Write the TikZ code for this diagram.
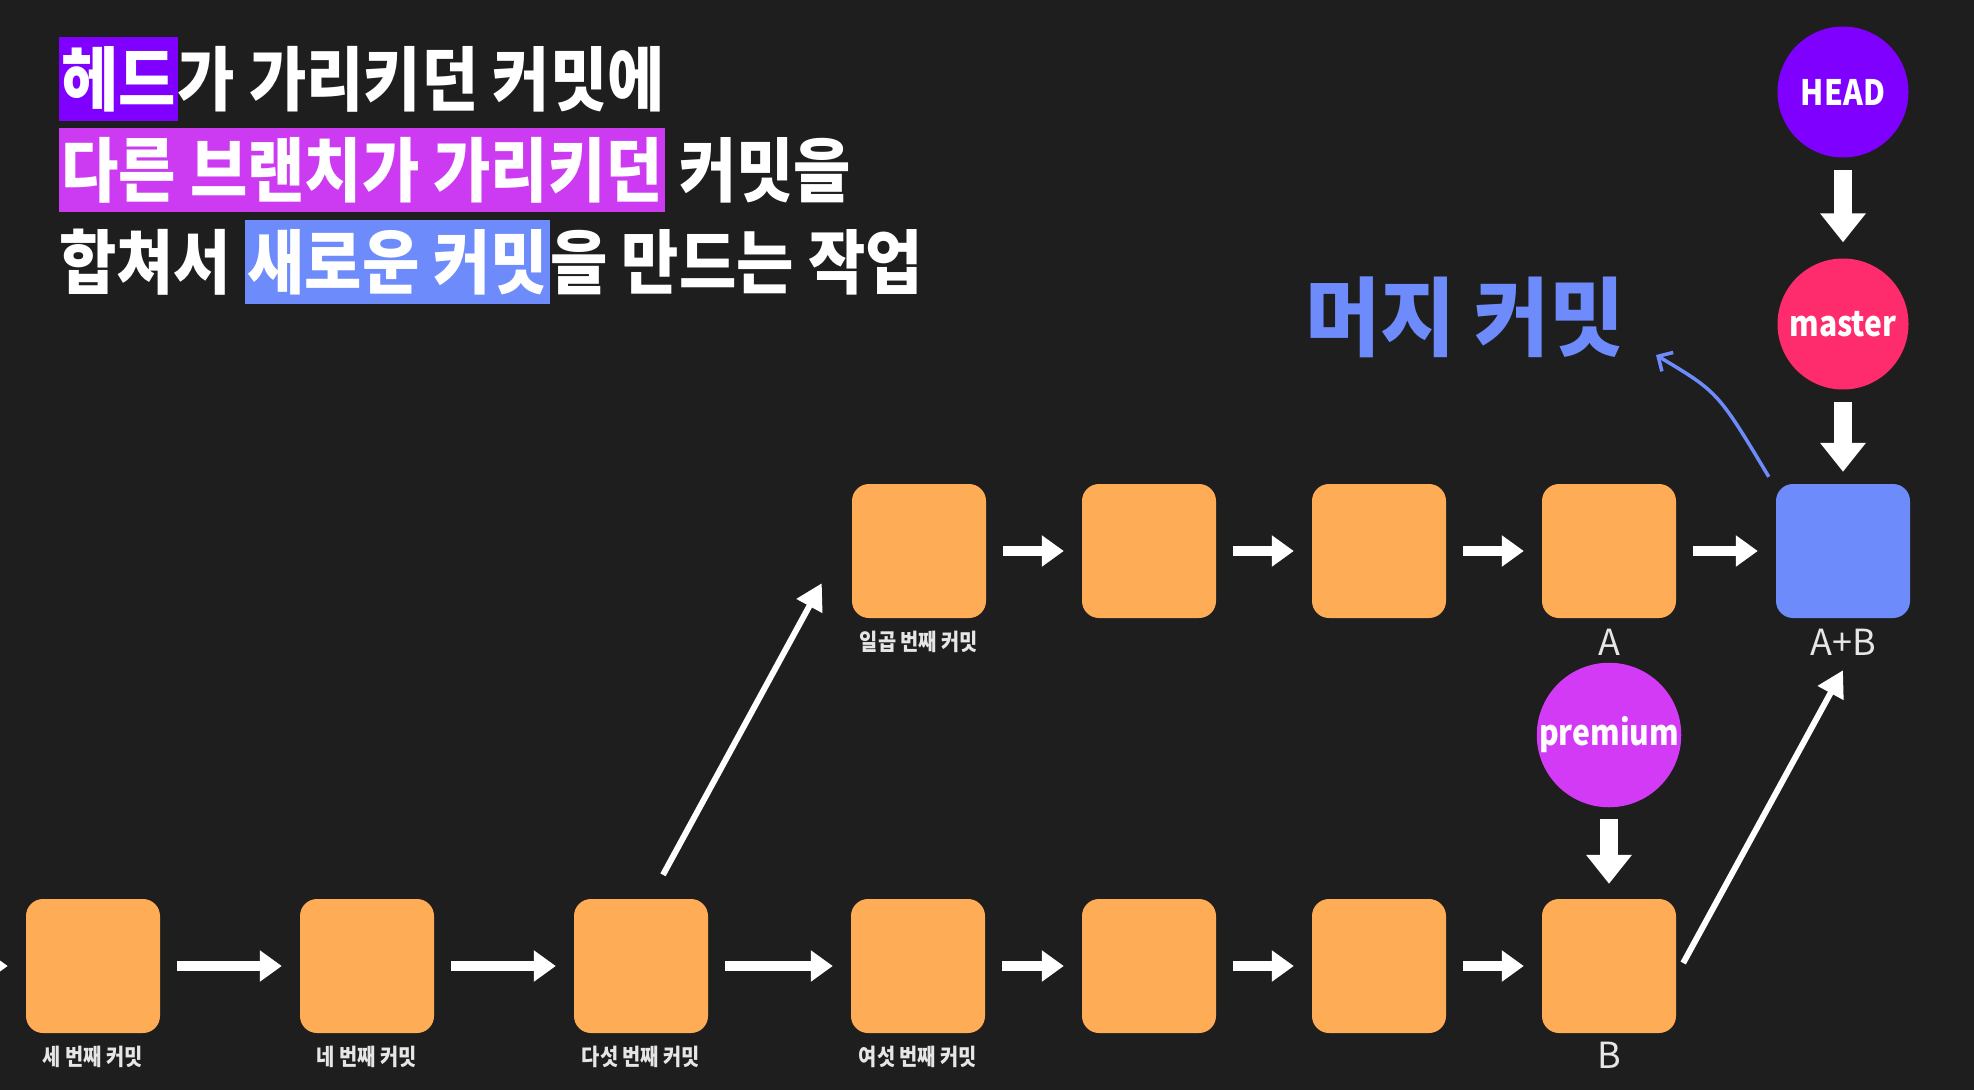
\documentclass[tikz,border=0pt]{standalone}
\usepackage{fontspec}
\newfontfamily\krfont{Noto Sans CJK KR}
\newfontfamily\krnarrow[FakeStretch=0.86]{Noto Sans CJK KR}
\newfontfamily\krtitle[FakeStretch=0.89]{Noto Sans CJK KR}
\newfontfamily\krwide[FakeStretch=0.95]{Noto Sans CJK KR}
\usepackage{xcolor}
\definecolor{bgdark}{HTML}{1E1E1E}
\definecolor{commitorange}{HTML}{FEAD56}
\definecolor{mergeblue}{HTML}{6D8BFA}
\definecolor{headpurple}{HTML}{7F00FE}
\definecolor{masterred}{HTML}{FE2C6C}
\definecolor{branchpink}{HTML}{D23AF6}
\definecolor{hlpink}{HTML}{CC3BF2}
\definecolor{labelgray}{HTML}{E6E6E6}
\usetikzlibrary{arrows.meta, positioning, calc}

% highlighted words in the title
\newcommand{\hlbox}[2]{{\setlength{\fboxsep}{0pt}\colorbox{#1}{\rule[-0.23em]{0pt}{1.2em}\hspace{2pt}#2\hspace{2pt}}}}

\begin{document}
\begin{tikzpicture}[x=1pt, y=-1pt,
  every node/.style={inner sep=0pt},
  commit/.style={fill=commitorange, rounded corners=17pt, minimum width=134pt, minimum height=134pt},
  mergecommit/.style={commit, fill=mergeblue},
  pointer/.style={circle, minimum size=131pt, text=white, font=\krnarrow\bfseries\fontsize{35}{40}\selectfont},
  clabel/.style={text=labelgray, font=\krnarrow\bfseries\fontsize{23}{28}\selectfont},
  letter/.style={text=labelgray, font=\krfont\fontsize{36}{40}\selectfont},
  titleline/.style={anchor=base west, text=white, font=\krtitle\bfseries\fontsize{70}{80}\selectfont},
  flow/.style={draw=white, line width=10pt, -{Triangle[width=30pt,length=22pt]}, shorten <=17pt, shorten >=18pt},
  refarrow/.style={draw=white, line width=18pt, -{Triangle[width=44pt,length=29pt]}, shorten <=12pt, shorten >=16pt},
  jump/.style={draw=white, line width=6pt, -{Triangle[width=28pt,length=26pt]}},
  note/.style={draw=mergeblue, line width=3.5pt, -{Straight Barb[length=11pt,width=22pt]}}
]
  \useasboundingbox (0,0) rectangle (1974,1090);
  \fill[bgdark] (0,0) rectangle (1974,1090);
  \clip (0,0) rectangle (1974,1090);

  % title
  \node[titleline] (t1) at (59,105) {\hlbox{headpurple}{헤드}가 가리키던 커밋에};
  \node[titleline] (t2) at (59,196) {\hlbox{hlpink}{다른 브랜치가 가리키던} 커밋을};
  \node[titleline] (t3) at (59,288) {합쳐서 \hlbox{mergeblue}{새로운 커밋}을 만드는 작업};

  % commits with a caption
  \foreach \nm/\cx/\cy/\txt in {c3/93/966/세 번째 커밋, c4/367/966/네 번째 커밋,
      c5/641/966/다섯 번째 커밋, c6/918/966/여섯 번째 커밋, c7/919/551/일곱 번째 커밋}{
    \node[commit] (\nm) at (\cx,\cy) {};
    \node[clabel] (\nm-lbl) at ([yshift=-24pt]\nm.south) {\txt};
  }
  % commits without a caption
  \foreach \nm/\cx/\cy in {p1/1149/966, p2/1379/966, cB/1609/966,
      m1/1149/551, m2/1379/551, cA/1609/551}
    \node[commit] (\nm) at (\cx,\cy) {};
  \node[mergecommit] (cAB) at (1843,551) {};

  \node[letter] (lA) at ([yshift=-24pt]cA.south) {A};
  \node[letter] (lB) at ([yshift=-22pt]cB.south) {B};
  \node[letter] (lAB) at ([yshift=-24pt]cAB.south) {A+B};

  % branch pointers
  \node[pointer, fill=headpurple] (head) at (1843,92) {HEAD};
  \node[pointer, fill=masterred] (master) at (1843,324) {master};
  \node[pointer, fill=branchpink] (premium) at (1609,735) {premium};

  \node[text=mergeblue, font=\krwide\bfseries\fontsize{86}{90}\selectfont] (mergetxt) at (1465,317) {머지 커밋};

  % history
  \coordinate (c2) at (-150,966);
  \draw[flow] (c2) -- (c3.west);
  \foreach \a/\b in {c3/c4, c4/c5, c5/c6, c6/p1, p1/p2, p2/cB, c7/m1, m1/m2, m2/cA, cA/cAB}
    \draw[flow] (\a.east) -- (\b.west);

  \draw[jump] ([xshift=22pt,yshift=24pt]c5.north) -- ([xshift=-30pt,yshift=35pt]c7.south west);
  \draw[jump] ([xshift=7pt,yshift=3pt]cB.east) -- ([yshift=-52pt]cAB.south);

  \draw[refarrow] (head.south) -- (master.north);
  \draw[refarrow, shorten >=12pt] (master.south) -- (cAB.north);
  \draw[refarrow, shorten >=15pt] (premium.south) -- (cB.north);

  \coordinate (mtip) at (1656,355);
  \draw[note] ([xshift=-7pt,yshift=7pt]cAB.north west) .. controls (1718,392) .. (mtip);
\end{tikzpicture}
\end{document}
